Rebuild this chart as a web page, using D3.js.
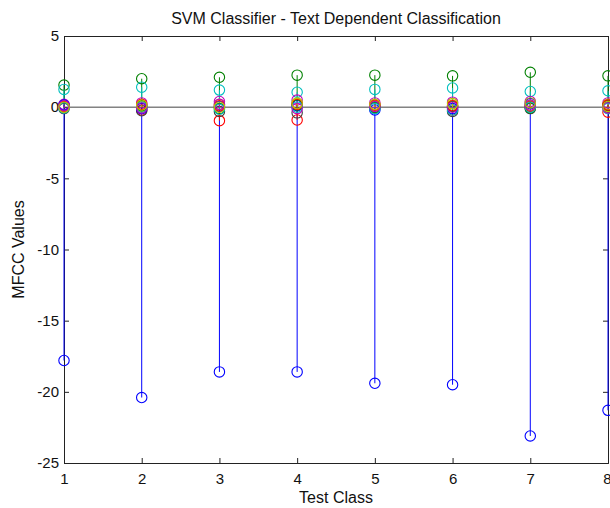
<!DOCTYPE html>
<html><head><meta charset="utf-8">
<script src="https://cdn.jsdelivr.net/npm/d3@7/dist/d3.min.js"></script>
<style>body{margin:0;background:#fff;} text{font-family:"Liberation Sans",Arial,sans-serif;}</style>
</head><body>
<svg id="c" width="610" height="508"></svg>
<script>
const classes = [1,2,3,4,5,6,7,8];
const xTicks = [1,2,3,4,5,6,7,8];
const yTicks = [-25,-20,-15,-10,-5,0,5];
const s1  = [-17.8,-20.4,-18.6,-18.6,-19.4,-19.5,-23.1,-21.3];
const s2  = [1.55,2.0,2.1,2.25,2.25,2.2,2.45,2.2];
const s3  = [0.1,-0.2,-0.95,-0.9,0.1,-0.2,0.1,-0.35];
const s4  = [1.25,1.4,1.2,1.05,1.25,1.35,1.1,1.15];
const s5  = [0.2,0.3,0.4,0.5,0.3,0.35,0.4,0.3];
const s6  = [0.1,0.05,0.2,0.3,0.1,0.15,0.1,0.2];
const s7  = [-0.1,-0.25,-0.3,-0.4,-0.05,-0.3,-0.1,0.0];
const s8  = [0.15,-0.1,0.05,0.1,-0.2,-0.1,0.25,0.1];
const s9  = [0.0,0.1,-0.1,0.15,0.0,0.05,-0.05,0.1];
const s10 = [0.05,0.2,0.1,0.2,0.15,0.1,0.05,0.15];
const s11 = [-0.05,0.0,-0.15,0.0,-0.1,-0.2,0.0,-0.1];
const s12 = [0.1,-0.05,0.2,-0.1,0.05,0.0,0.15,-0.05];
const s13 = [0.0,0.15,0.0,0.25,0.2,0.25,0.3,0.05];
const seriesList = [s1,s2,s3,s4,s5,s6,s7,s8,s9,s10,s11,s12,s13];
const colors = ["#0000ff","#008000","#ff0000","#00bfbf","#bf00bf","#bfbf00","#404040"];

const L=64,R=608,T=36,B=463;
const svg=d3.select("#c");
const x=d3.scaleLinear().domain([1,8]).range([L,R]);
const y=d3.scaleLinear().domain([-25,5]).range([B,T]);

const g=svg.append("g");
const xb=g.append("g").attr("transform",`translate(0,${B})`).call(d3.axisBottom(x).tickValues(xTicks).tickSize(-5).tickPadding(10).tickFormat(d=>String(d)));
xb.selectAll(".tick text").filter(d=>d===8).attr("text-anchor","end").attr("dx",3);
g.append("g").attr("transform",`translate(0,${T})`).call(d3.axisTop(x).tickValues(xTicks).tickSize(-5).tickFormat(""));
g.append("g").attr("transform",`translate(${L},0)`).call(d3.axisLeft(y).tickValues(yTicks).tickSize(-5).tickPadding(5).tickFormat(d=>String(d)));
g.append("g").attr("transform",`translate(${R},0)`).call(d3.axisRight(y).tickValues(yTicks).tickSize(-5).tickFormat(""));
g.selectAll(".domain").attr("stroke","#222");
g.selectAll(".tick line").attr("stroke","#222");
g.selectAll(".tick text").attr("font-size",15).attr("fill","#111").attr("font-family","Liberation Sans, Arial, sans-serif");

svg.append("line").attr("x1",L).attr("x2",R).attr("y1",y(0)).attr("y2",y(0)).attr("stroke","#444").attr("stroke-width",1);

seriesList.forEach((vals,i)=>{
  const col=colors[i%colors.length];
  const sg=svg.append("g");
  sg.selectAll("line").data(vals).join("line")
    .attr("x1",(d,j)=>x(classes[j])).attr("x2",(d,j)=>x(classes[j]))
    .attr("y1",y(0)).attr("y2",d=>y(d)).attr("stroke",col).attr("stroke-width",1);
  sg.selectAll("circle").data(vals).join("circle")
    .attr("cx",(d,j)=>x(classes[j])).attr("cy",d=>y(d)).attr("r",5.2)
    .attr("fill","none").attr("stroke",col).attr("stroke-width",1.1);
});

svg.append("text").attr("x",(L+R)/2).attr("y",24).attr("text-anchor","middle").attr("font-size",16).attr("fill","#111").text("SVM Classifier - Text Dependent Classification");
svg.append("text").attr("x",(L+R)/2).attr("y",503).attr("text-anchor","middle").attr("font-size",16).attr("fill","#111").text("Test Class");
svg.append("text").attr("transform",`translate(24,${(T+B)/2}) rotate(-90)`).attr("text-anchor","middle").attr("font-size",16).attr("fill","#111").text("MFCC Values");
</script>
</body></html>
